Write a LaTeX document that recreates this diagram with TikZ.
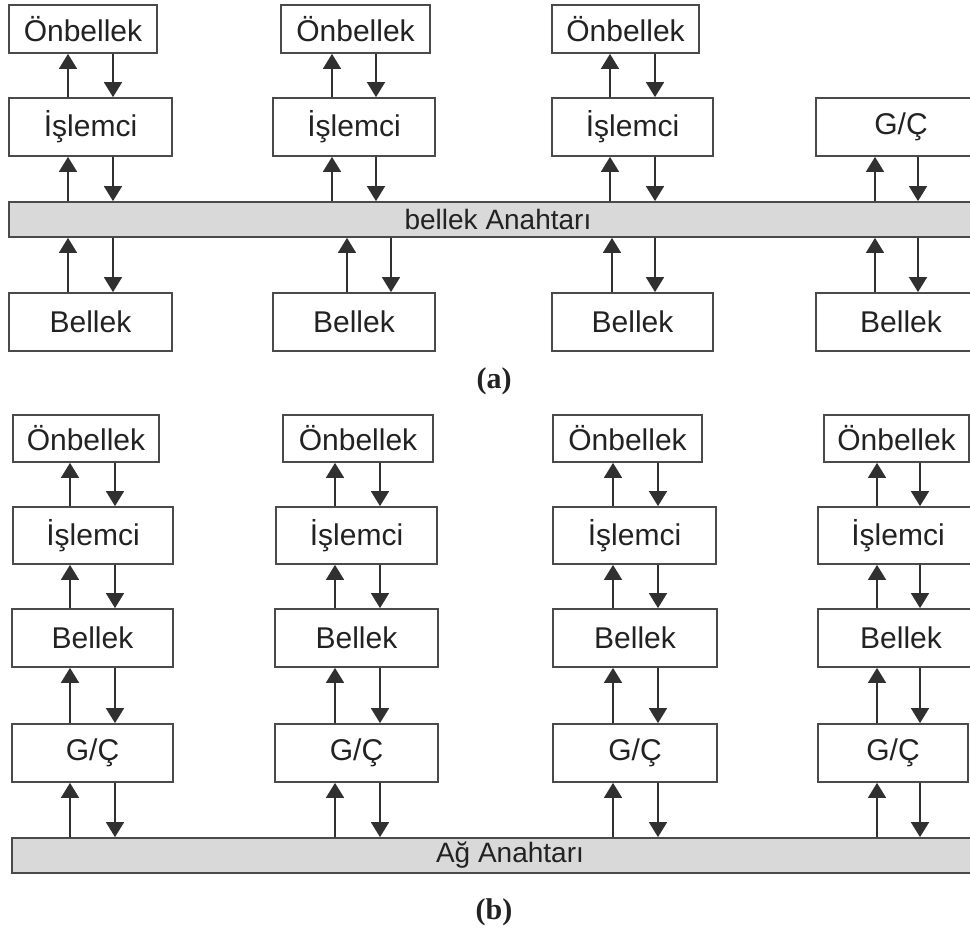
\documentclass[tikz,border=0pt]{standalone}
\usepackage{fontspec}
\setmainfont{Liberation Sans}
\newfontfamily\capfont{Liberation Serif}
\usetikzlibrary{arrows.meta}
\definecolor{boxc}{HTML}{4A4A4A}
\definecolor{linec}{HTML}{303030}
\definecolor{txtc}{HTML}{222222}
\definecolor{barc}{HTML}{D9D9D9}
\newcommand{\bx}[6]{\node[box,minimum width={(#3-#2)*1pt},minimum height={(#5-#4)*1pt}] (#1) at ({(#2+#3)/2},{(#4+#5)/2}) {#6};}
\newcommand{\udarr}[4]{%
  \coordinate (tmpU) at (#3,0);
  \coordinate (tmpD) at (#4,0);
  \draw[arr] (#1.north -| tmpU) -- (#2.south -| tmpU);
  \draw[arr] (#2.south -| tmpD) -- (#1.north -| tmpD);}
\begin{document}
\begin{tikzpicture}[x=1pt,y=-1pt,
  box/.style={draw=boxc,line width=1.8pt,fill=white,inner sep=0pt,
    font=\fontsize{30}{34}\selectfont,text=txtc},
  barbox/.style={draw=boxc,line width=1.8pt,fill=barc,inner sep=0pt},
  lbl/.style={inner sep=0pt,text=txtc,font=\fontsize{28}{32}\selectfont},
  captext/.style={inner sep=0pt,text=txtc,font=\capfont\bfseries\fontsize{30}{34}\selectfont},
  arr/.style={draw=linec,line width=1.7pt,-{Triangle[width=18pt,length=15pt]}}]
\useasboundingbox (0,0) rectangle (970,931);
\fill[white] (0,0) rectangle (970,931);
\clip (0,0) rectangle (970,931);
% ---------------- (a) ----------------
\bx{ao1}{9}{157}{5}{53}{Önbellek}
\bx{ao2}{281}{430}{5}{53}{Önbellek}
\bx{ao3}{552}{699}{5}{53}{Önbellek}
\bx{ai1}{9}{172}{98}{156}{İşlemci}
\bx{ai2}{273}{435}{98}{156}{İşlemci}
\bx{ai3}{552}{713}{98}{156}{İşlemci}
\bx{ag4}{816}{986}{98}{156}{G/Ç}
\node[barbox,minimum width=1000pt,minimum height=35pt] (abar) at (509,219.5) {};
\node[lbl] (alab) at (498,219) {bellek Anahtarı};
\bx{ab1}{9}{172}{293}{351}{Bellek}
\bx{ab2}{273}{435}{293}{351}{Bellek}
\bx{ab3}{552}{713}{293}{351}{Bellek}
\bx{ab4}{816}{986}{293}{351}{Bellek}
\udarr{ai1}{ao1}{68}{113}
\udarr{ai2}{ao2}{332}{376}
\udarr{ai3}{ao3}{610}{655}
\udarr{abar}{ai1}{68}{113}
\udarr{abar}{ai2}{332}{376}
\udarr{abar}{ai3}{610}{655}
\udarr{abar}{ag4}{875}{918}
\udarr{ab1}{abar}{68}{113}
\udarr{ab2}{abar}{347}{391}
\udarr{ab3}{abar}{612}{655}
\udarr{ab4}{abar}{875}{918}
\node[captext] (capa) at (494,381) {(a)};
% ---------------- (b) ----------------
\bx{bo1}{13}{159}{415}{462}{Önbellek}
\bx{bo2}{283}{433}{415}{462}{Önbellek}
\bx{bo3}{553}{702}{415}{462}{Önbellek}
\bx{bo4}{824}{969}{415}{462}{Önbellek}
\bx{bi1}{13}{173}{507}{564}{İşlemci}
\bx{bi2}{276}{437}{507}{564}{İşlemci}
\bx{bi3}{553}{716}{507}{564}{İşlemci}
\bx{bi4}{818}{978}{507}{564}{İşlemci}
\bx{bb1}{12}{173}{609}{667}{Bellek}
\bx{bb2}{275}{438}{609}{667}{Bellek}
\bx{bb3}{553}{717}{609}{667}{Bellek}
\bx{bb4}{818}{984}{609}{667}{Bellek}
\bx{bg1}{12}{173}{724}{782}{G/Ç}
\bx{bg2}{275}{438}{724}{782}{G/Ç}
\bx{bg3}{553}{717}{724}{782}{G/Ç}
\bx{bg4}{818}{968}{724}{782}{G/Ç}
\node[barbox,minimum width=1000pt,minimum height=35pt] (bbar) at (512,855.5) {};
\node[lbl] (blab) at (510,855) {Ağ Anahtarı};
\udarr{bi1}{bo1}{70}{115}
\udarr{bi2}{bo2}{335}{380}
\udarr{bi3}{bo3}{613}{658}
\udarr{bi4}{bo4}{877}{920}
\udarr{bb1}{bi1}{70}{115}
\udarr{bb2}{bi2}{335}{380}
\udarr{bb3}{bi3}{613}{658}
\udarr{bb4}{bi4}{877}{920}
\udarr{bg1}{bb1}{70}{115}
\udarr{bg2}{bb2}{335}{380}
\udarr{bg3}{bb3}{613}{658}
\udarr{bg4}{bb4}{877}{920}
\udarr{bbar}{bg1}{70}{115}
\udarr{bbar}{bg2}{335}{380}
\udarr{bbar}{bg3}{613}{658}
\udarr{bbar}{bg4}{877}{920}
\node[captext] (capb) at (494,912) {(b)};
\end{tikzpicture}
\end{document}
